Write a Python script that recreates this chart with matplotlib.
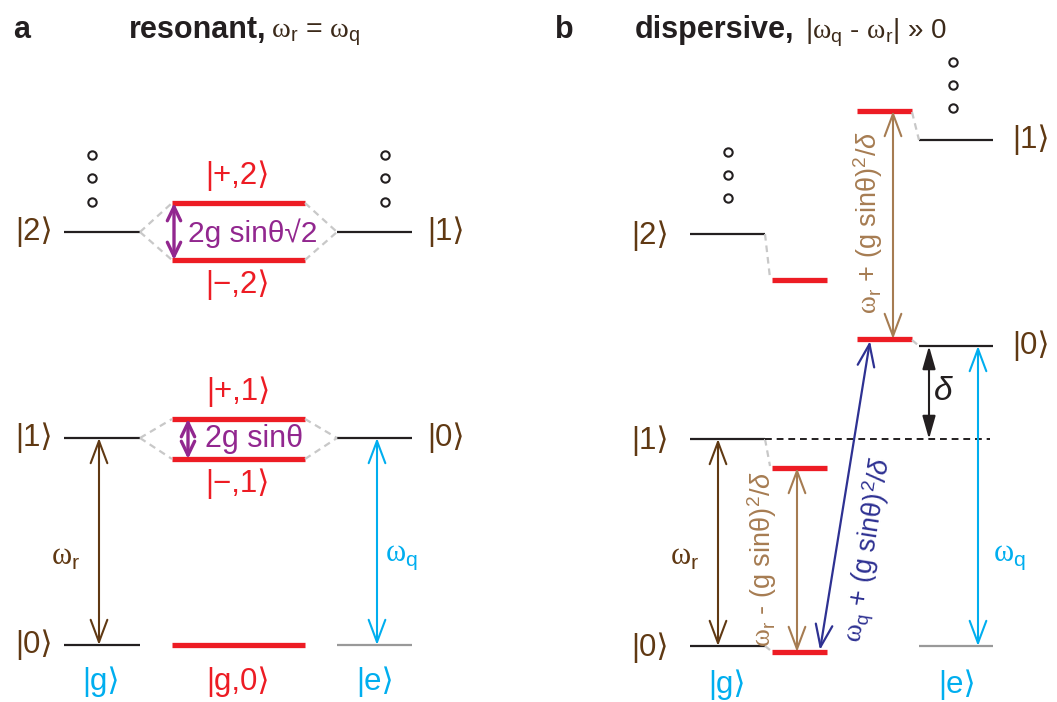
import matplotlib
matplotlib.use("Agg")
import matplotlib.pyplot as plt

plt.rcParams['font.family'] = ['Liberation Sans', 'DejaVu Sans']
plt.rcParams['mathtext.fontset'] = 'custom'
plt.rcParams['mathtext.rm'] = 'Liberation Sans'
plt.rcParams['mathtext.sf'] = 'Liberation Sans'
plt.rcParams['mathtext.it'] = 'Liberation Sans:italic'
plt.rcParams['mathtext.bf'] = 'Liberation Sans:bold'
plt.rcParams['mathtext.cal'] = 'Liberation Serif'

# ---------------- data (level heights, figure pixel units, down = lower energy) -------------
# panel a (resonant)
a_bare_levels = [645, 438, 232]          # |0>, |1>, |2> (resonator)  / |e,0>, |e,1> (qubit side)
a_bare_left = ['|0⟩', '|1⟩', '|2⟩']
a_bare_right = ['|0⟩', '|1⟩']
a_plus_levels = [419, 203]               # |+,1>, |+,2>
a_minus_levels = [459, 260]              # |-,1>, |-,2>
a_plus_labels = ['|+,1⟩', '|+,2⟩']
a_minus_labels = ['|−,1⟩', '|−,2⟩']
a_split_labels = ['2g sinθ', '2g sinθ√2']
a_ground = 645

# panel b (dispersive)
b_res_levels = [646, 439, 234]           # |g,0>, |g,1>, |g,2> bare
b_res_shifted = [652, 468, 280]          # dressed
b_res_labels = ['|0⟩', '|1⟩', '|2⟩']
b_qub_levels = [346, 140]                # |e,0>, |e,1> bare
b_qub_shifted = [339, 111]               # dressed
b_qub_labels = ['|0⟩', '|1⟩']
b_ground = 646

# ---------------- colours ----------------
BLK = '#231f20'
BRN = '#603913'
CYA = '#00aeef'
RED = '#ed1c24'
PUR = '#92278f'
TAN = '#a67c52'
NAV = '#2e3192'
GRY = '#999999'
DSH = '#c8c8c8'

W, H = 1057, 702
fig = plt.figure(figsize=(W / 100, H / 100), dpi=100)
ax = fig.add_axes([0, 0, 1, 1])
ax.set_xlim(0, W)
ax.set_ylim(H, 0)
ax.axis('off')

KFS = 22.5  # ket font size
OFS = 22    # omega label font size


def level(x0, x1, y, color=BLK, lw=1.6):
    ax.plot([x0, x1], [y, y], color=color, lw=lw, solid_capstyle='butt')


def red(x0, x1, y, lw=3.8):
    ax.plot([x0, x1], [y, y], color=RED, lw=lw, solid_capstyle='butt')


def gdash(p, q):
    ax.plot([p[0], q[0]], [p[1], q[1]], color=DSH, lw=1.6, dashes=(3, 2.2))


def arrow(p, q, color, style='<->', hl=0.8, hw=0.3, lw=1.5):
    ax.annotate('', xy=q, xytext=p,
                arrowprops=dict(arrowstyle=f'{style},head_length={hl},head_width={hw}',
                                color=color, lw=lw, shrinkA=0, shrinkB=0,
                                mutation_scale=20))


def ket(x, y, s, color=BRN, fs=KFS, **kw):
    ax.text(x, y, s, color=color, fontsize=fs, ha='center', va='center',
            family=['Liberation Sans', 'DejaVu Sans'], **kw)


def dots(x, ys):
    ax.plot([x] * len(ys), ys, 'o', ms=6, mfc='white', mec=BLK, mew=1.5)


# ================= panel a =================
ax.text(13, 30, 'a', fontsize=22, fontweight='bold', color=BLK, va='center', ha='left')
ax.text(129, 30, 'resonant,', fontsize=22, fontweight='bold', color=BLK, va='center', ha='left')
ax.text(271, 35, r'$\mathcal{ω}_\mathsf{r}$ = $\mathcal{ω}_\mathsf{q}$', fontsize=20.5,
        color='#3c2a1a', va='center', ha='left')

LX0, LX1 = 64, 140
CX0, CX1 = 172, 305
RX0, RX1 = 337, 412

for i, y in enumerate(a_bare_levels):
    level(LX0, LX1, y)
    ket(34, y, a_bare_left[i])
for i, y in enumerate(a_bare_levels[1:]):
    level(RX0, RX1, y)
    ket(446, y, a_bare_right[i])
level(RX0, RX1, a_ground, color=GRY)
red(CX0, CX1, a_ground)
ket(238, 682, '|g,0⟩', color=RED)
ket(101, 682, '|g⟩', color=CYA)
ket(375, 682, '|e⟩', color=CYA)

split_x = [188, 174]
split_tx = [254, 253]
split_fs = [22, 21.5]
for i in range(2):
    yb = a_bare_levels[i + 1]
    yp, ym = a_plus_levels[i], a_minus_levels[i]
    red(CX0, CX1, yp)
    red(CX0, CX1, ym)
    gdash((LX1, yb), (CX0, yp))
    gdash((LX1, yb), (CX0, ym))
    gdash((CX1, yp), (RX0, yb))
    gdash((CX1, ym), (RX0, yb))
    ket(238, yp - 27, a_plus_labels[i], color=RED)
    ket(238, ym + 25, a_minus_labels[i], color=RED)
    arrow((split_x[i], ym), (split_x[i], yp), PUR, hl=0.5, hw=0.24, lw=2.4)
    ax.text(split_tx[i], yb + 1, a_split_labels[i], color=PUR, fontsize=split_fs[i],
            ha='center', va='center')

dots(92, [155, 178, 202])
dots(385, [155, 178, 202])

arrow((99, a_bare_levels[1]), (99, a_ground), BRN)
arrow((377, a_bare_levels[1]), (377, a_ground), CYA)
ax.text(66, 557, r'$\mathcal{ω}_\mathsf{r}$', color=BRN, fontsize=OFS, ha='center', va='center')
ax.text(401, 557, r'$\mathcal{ω}_\mathsf{q}$', color=CYA, fontsize=OFS, ha='center', va='center')

# ================= panel b =================
ax.text(555, 30, 'b', fontsize=22, fontweight='bold', color=BLK, va='center', ha='left')
ax.text(635, 30, 'dispersive,', fontsize=22, fontweight='bold', color=BLK, va='center', ha='left')
ax.text(805, 33, r'|$\mathcal{ω}_\mathsf{q}$ - $\mathcal{ω}_\mathsf{r}$| » 0', fontsize=20,
        color='#3c2a1a', va='center', ha='left')

BL0, BL1 = 690, 765
BS0, BS1 = 772, 827
BQ0, BQ1 = 857, 912
BR0, BR1 = 919, 993

for i, y in enumerate(b_res_levels):
    level(BL0, BL1, y)
    red(BS0, BS1, b_res_shifted[i])
    gdash((BL1, y), (BS0 - 2, b_res_shifted[i] - 2))
    ket(650, y + 2, b_res_labels[i])
for i, y in enumerate(b_qub_levels):
    level(BR0, BR1, y)
    red(BQ0, BQ1, b_qub_shifted[i])
    gdash((BQ1, b_qub_shifted[i] + 1), (BR0, y))
    ket(1031, y, b_qub_labels[i])
level(BR0, BR1, b_ground, color=GRY)

# dashed continuation of |g,1>
ax.plot([BL1, 990], [b_res_levels[1]] * 2, color=BLK, lw=1.4, dashes=(3.5, 2.5))

ket(727, 685, '|g⟩', color=CYA)
ket(957, 685, '|e⟩', color=CYA)

dots(728, [152, 175, 198])
dots(953, [62, 85, 108])

# arrows
arrow((718, b_res_levels[1]), (718, b_ground), BRN)
ax.text(685, 557, r'$\mathcal{ω}_\mathsf{r}$', color=BRN, fontsize=OFS, ha='center', va='center')

arrow((797, b_res_shifted[1]), (797, b_res_shifted[0]), TAN)
ax.text(762, 559, r'$\mathcal{ω}_\mathsf{r}$ - (g sinθ)$^\mathsf{2}$/$\mathit{δ}$', color=TAN,
        fontsize=19.5, rotation=90, ha='center', va='center')

arrow((893, b_qub_shifted[1]), (893, b_qub_shifted[0]), TAN)
ax.text(868, 223, r'$\mathcal{ω}_\mathsf{r}$ + (g sinθ)$^\mathsf{2}$/$\mathit{δ}$', color=TAN,
        fontsize=19.5, rotation=90, ha='center', va='center')

arrow((820, b_res_shifted[0] - 2), (870, b_qub_shifted[0] + 2), NAV, lw=1.6)
ax.text(869, 550, r'$\mathcal{ω}_\mathsf{q}$ + (g sinθ)$^\mathsf{2}$/$\mathit{δ}$', color=NAV,
        fontsize=19.5, rotation=81, ha='center', va='center', rotation_mode='anchor')

arrow((929, b_qub_levels[0]), (929, b_res_levels[1]), BLK, style='<|-|>', hl=0.7, hw=0.2, lw=1.5)
ax.text(943, 392, r'$\mathit{δ}$', color=BLK, fontsize=24, ha='center', va='center')

arrow((978, b_qub_levels[0]), (978, b_ground), CYA)
ax.text(1009, 557, r'$\mathcal{ω}_\mathsf{q}$', color=CYA, fontsize=OFS, ha='center', va='center')

fig.savefig('out.png', dpi=100)
